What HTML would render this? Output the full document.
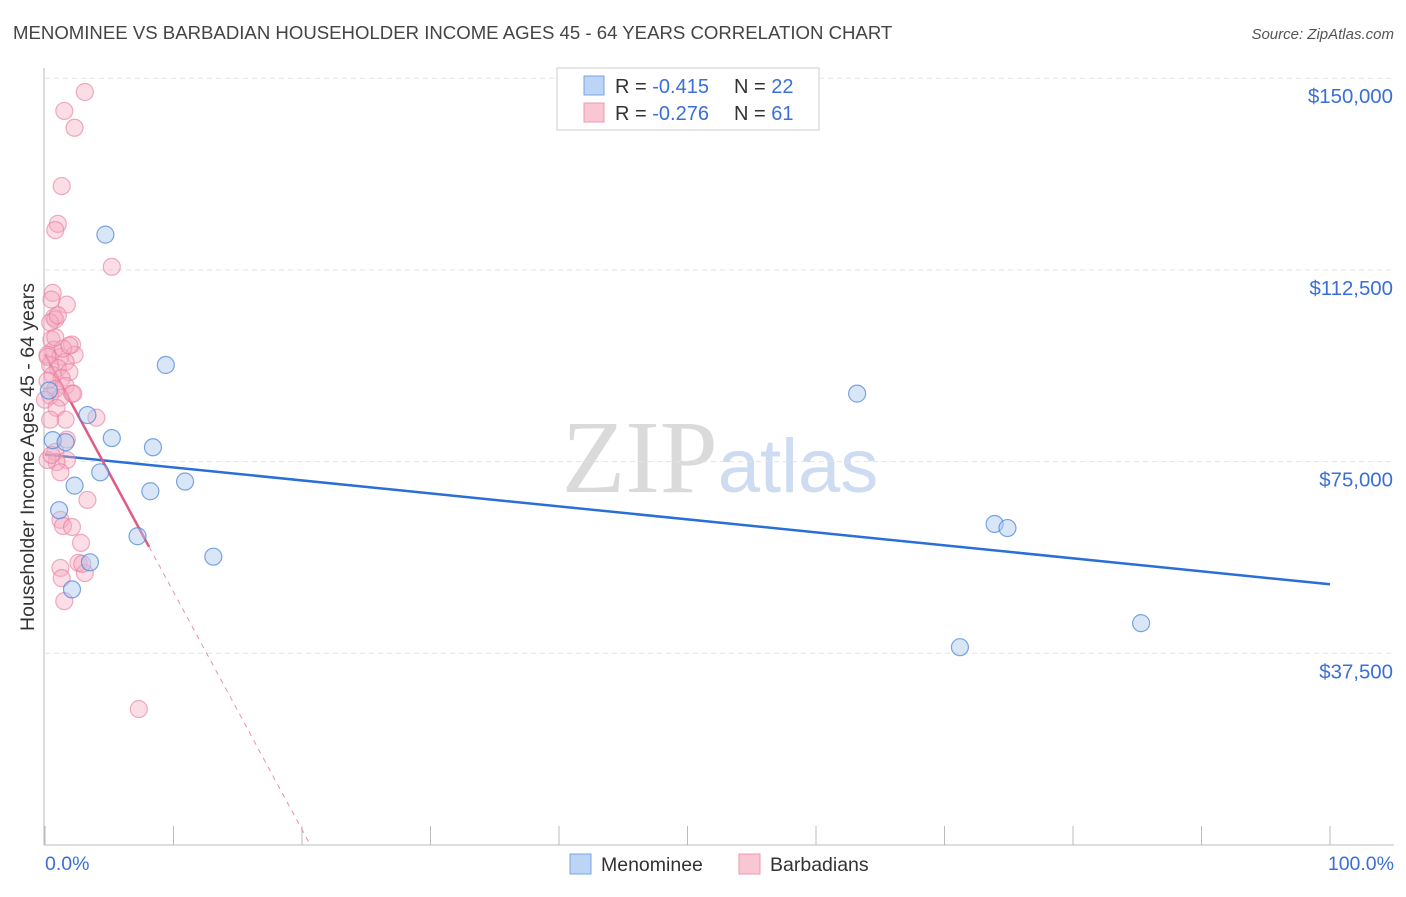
<!DOCTYPE html>
<html><head><meta charset="utf-8"><style>
body{margin:0;background:#fff;font-family:"Liberation Sans",sans-serif;}
svg text{font-family:"Liberation Sans",sans-serif;}
</style></head><body>
<svg id="chart" width="1406" height="892" xmlns="http://www.w3.org/2000/svg">
<text x="13" y="39" font-size="18.6" fill="#444">MENOMINEE VS BARBADIAN HOUSEHOLDER INCOME AGES 45 - 64 YEARS CORRELATION CHART</text>
<text x="1394" y="39" font-size="15" fill="#555" text-anchor="end" font-style="italic">Source: ZipAtlas.com</text>
<text transform="translate(34,457) rotate(-90)" font-size="19.5" fill="#333" text-anchor="middle">Householder Income Ages 45 - 64 years</text>
<text x="720" y="492" font-size="104" text-anchor="middle"><tspan fill="#dadada" font-family="Liberation Serif">ZIP</tspan><tspan fill="#cddcf0" font-size="76">atlas</tspan></text>
<g id="grid"></g><g id="axes"></g><g id="lines"></g><g id="points"></g>
<g>
<rect x="557" y="68" width="262" height="62" fill="#fff" stroke="#ccc"/>
<rect x="584" y="76" width="20" height="19" fill="#bcd4f5" stroke="#7aa4e0"/>
<text x="615" y="93" font-size="20" fill="#333">R = <tspan fill="#3a6fd8">-0.415</tspan></text>
<text x="734" y="93" font-size="20" fill="#333">N = <tspan fill="#3a6fd8">22</tspan></text>
<rect x="584" y="103" width="20" height="19" fill="#f9c6d4" stroke="#ee98b2"/>
<text x="615" y="120" font-size="20" fill="#333">R = <tspan fill="#3a6fd8">-0.276</tspan></text>
<text x="734" y="120" font-size="20" fill="#333">N = <tspan fill="#3a6fd8"> 61</tspan></text>
</g>
<g><rect x="570" y="854" width="21" height="20" fill="#bcd4f5" stroke="#7aa4e0"/><text x="601" y="871" font-size="19.5" fill="#333">Menominee</text></g>
<g><rect x="739" y="854" width="21" height="20" fill="#f9c6d4" stroke="#ee98b2"/><text x="770" y="871" font-size="19.5" fill="#333">Barbadians</text></g>
</svg>
<script>
const yTicks=[37500,75000,112500,150000];
const yTickLabels=["$37,500","$75,000","$112,500","$150,000"];
const xTickLabels=["0.0%","100.0%"];
const menomineeX=[4.7,9.4,0.6,1.6,3.3,5.2,8.4,4.3,10.9,2.3,8.2,1.1,7.2,13.1,3.5,2.1,63.2,73.9,74.9,71.2,85.3,0.3];
const menomineeY=[119400,93900,79200,78800,84100,79600,77800,72900,71100,70300,69200,65500,60400,56400,55300,50000,88300,62800,62000,38700,43400,88900];
const barbX=[3.1,1.5,2.3,1.3,1.0,0.8,5.2,0.6,1.7,0.7,0.8,0.4,0.5,2.1,0.7,2.3,0.2,1.2,1.6,0.4,1.0,1.9,0.6,1.3,0.2,1.6,0.8,2.1,0.4,1.2,0.0,0.9,1.6,4.0,0.4,1.7,0.8,1.7,0.9,1.2,3.3,1.2,1.4,2.1,2.8,1.2,2.6,3.1,1.3,1.5,7.3,0.2,0.5,1.0,0.5,2.2,1.4,0.8,2.9,0.2,1.9];
const barbY=[147300,143600,140300,128900,121500,120300,113100,108000,105700,103200,102800,102200,98900,97900,96900,95900,95900,95500,94500,93900,93300,92500,91900,91300,90800,89800,89200,88300,87900,87500,87100,85500,83200,83600,83200,79300,76900,75300,74900,72900,67500,63600,62400,62200,59100,54200,55200,53200,52200,47700,26600,75300,76300,103600,106700,88300,97100,99300,55000,95500,97700];
const trendM=[76400,-25400], trendB=[96000,-4650];
const X0=45,X1=1330,Y0=845,Yper=191.7/37500;
const sx=v=>X0+(X1-X0)*v/100, sy=v=>Y0-v*Yper;
const NS="http://www.w3.org/2000/svg";
function mk(p,t,a){const e=document.createElementNS(NS,t);for(const k in a)e.setAttribute(k,a[k]);p.appendChild(e);return e;}
const grid=document.getElementById('grid'),axes=document.getElementById('axes'),lines=document.getElementById('lines'),pts=document.getElementById('points');
yTicks.forEach((v,i)=>{
 const g=mk(grid,'line',{x1:45,x2:1394,y1:sy(v),y2:sy(v),stroke:'#e3e3e3','stroke-dasharray':'5,4'});
 
 
 const t=mk(axes,'text',{x:1393,y:sy(v)+25,'font-size':20.4,fill:'#3a6fd8','text-anchor':'end'});t.textContent=yTickLabels[i];
 
 
});
const ya=mk(axes,'line',{x1:44,x2:44,y1:68,y2:845,stroke:'#bbb'});


const xa=mk(axes,'line',{x1:44,x2:1394,y1:845,y2:845,stroke:'#bbb'});


for(let i=0;i<=10;i++){const tk=mk(axes,'line',{x1:sx(i*10),x2:sx(i*10),y1:826,y2:845,stroke:'#bbb'});
 
 }
[[45,'start'],[1394,'end']].forEach((p,i)=>{const t=mk(axes,'text',{x:p[0],y:870,'font-size':19.5,fill:'#3a6fd8','text-anchor':p[1]});t.textContent=xTickLabels[i];
 
 });
const bl=mk(lines,'line',{x1:sx(0),y1:sy(trendM[0]),x2:sx(100),y2:sy(trendM[0]+trendM[1]),stroke:'#2a6fd6','stroke-width':2.5});


const pxEnd=8.1, pxZero=-trendB[0]/trendB[1];
const pl=mk(lines,'line',{x1:sx(0),y1:sy(trendB[0]),x2:sx(pxEnd),y2:sy(trendB[0]+trendB[1]*pxEnd),stroke:'#e05a82','stroke-width':2.5});


const pd=mk(lines,'line',{x1:sx(pxEnd),y1:sy(trendB[0]+trendB[1]*pxEnd),x2:sx(pxZero),y2:sy(0),stroke:'#e890aa','stroke-width':1,'stroke-dasharray':'5,5'});


barbX.forEach((x,i)=>{const c=mk(pts,'circle',{cx:sx(x),cy:sy(barbY[i]),r:8.5,fill:'rgba(246,170,192,0.4)',stroke:'rgba(232,120,155,0.6)','stroke-width':1.2});
 
 });
menomineeX.forEach((x,i)=>{const c=mk(pts,'circle',{cx:sx(x),cy:sy(menomineeY[i]),r:8.5,fill:'rgba(170,200,240,0.45)',stroke:'rgba(70,130,215,0.7)','stroke-width':1.2});
 
 });
</script>
</body></html>
